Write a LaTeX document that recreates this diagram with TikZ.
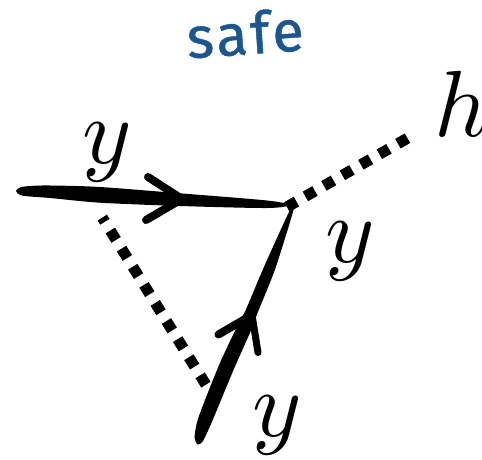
\documentclass[tikz,border=0pt]{standalone}
\usepackage{fontspec}
\newfontfamily\safefont[FakeBold=0.8,LetterSpace=5]{Fira Sans}
\definecolor{safeblue}{HTML}{1D558F}
\tikzset{
  ferm/.style={fill=black,draw=none},
  barb/.style={line width=8pt,line cap=round,draw=black},
  scal/.style={line width=11pt,draw=black,dash pattern=on 11pt off 10.3pt},
  lab/.style={inner sep=0pt,text=black}
}
\begin{document}
\begin{tikzpicture}[x=1pt,y=-1pt]
\useasboundingbox (0,0) rectangle (482,460);
\coordinate (v) at (286.9,207);
\coordinate (h) at (407.8,138);
\coordinate (a) at (205.9,384.7);
\coordinate (b) at (102.3,217.6);
\coordinate (h1) at (182,199);
\coordinate (h2) at (252,315);
\fill[ferm] plot[smooth cycle,tension=0.5] coordinates {(16,191) (20,187.5) (30,186) (50,185.5) (100,187) (180,193.3) (267,200.5) (289,205) (267,208) (180,206) (100,202.7) (50,198) (30,196.5) (20,195)};
\draw[barb] (148,177) -- (h1);
\draw[barb] (146,220) -- (h1);
\fill[ferm] plot[smooth cycle,tension=0.4] coordinates {(194.5,438) (198.5,417.3) (219.7,363.5) (240.5,319.5) (245.5,310.5) (264.9,264.8) (290,210) (293.5,210) (275.1,269.2) (256.5,315.5) (253.5,324.8) (233.7,369.5) (211.5,422.8) (203,441) (198,444.5)};
\draw[barb] (218.5,334.5) -- (h2);
\draw[barb,line width=7pt] (258,352.5) -- (h2);
\draw[scal] (v) -- (h);
\draw[scal] (a) -- (b);
\node[lab] (y1) at (107,152) {\scalebox{9.4}{$y$}};
\node[lab] (y2) at (350,251) {\scalebox{9.4}{$y$}};
\node[lab] (y3) at (277,425) {\scalebox{9.4}{$y$}};
\node[lab,anchor=south west] (hh) at (434,136.5) {\scalebox{9.4}{$h$}};
\node[lab,text=safeblue,rotate=4] (s) at (245,33) {\safefont\fontsize{58}{58}\selectfont safe};
\end{tikzpicture}
\end{document}
